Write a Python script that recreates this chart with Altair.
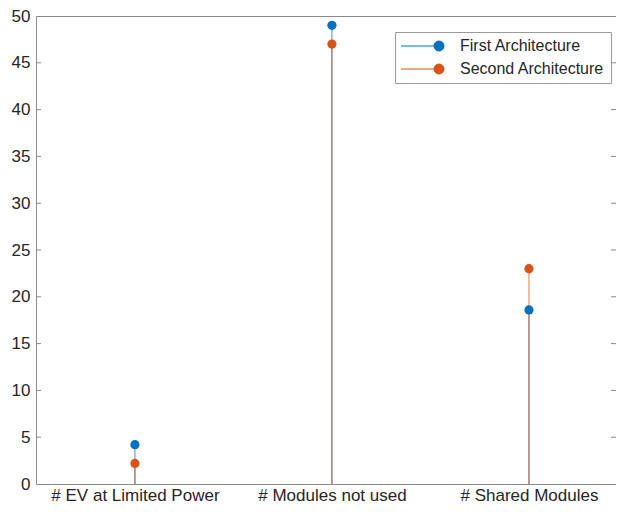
import altair as alt
import pandas as pd

categories = ["# EV at Limited Power", "# Modules not used", "# Shared Modules"]
series_names = ["First Architecture", "Second Architecture"]
first_values = [4.2, 49.0, 18.6]
second_values = [2.2, 47.0, 23.0]
series_colors = ["#0072BD", "#D95319"]
y_ticks = [0, 5, 10, 15, 20, 25, 30, 35, 40, 45, 50]
inner_ticks = [5, 10, 15, 20, 25, 30, 35, 40, 45]

rows = []
for i, (name, vals) in enumerate(zip(series_names, [first_values, second_values])):
    for c, v in zip(categories, vals):
        rows.append({"category": c, "series": name, "value": v, "order": i})
df = pd.DataFrame(rows)
tick_df = pd.DataFrame({"value": inner_ticks})

W, H = 580, 468
FONT = "Liberation Sans"
TXT = "#262626"

x_enc = alt.X(
    "category:N", sort=categories,
    scale=alt.Scale(type="point", padding=0.472, align=0.532),
    axis=alt.Axis(title=None, labelAngle=0, domain=False, ticks=False, grid=False,
                  labelFont=FONT, labelFontSize=17, labelColor=TXT, labelPadding=3),
)
y_enc = alt.Y(
    "value:Q",
    scale=alt.Scale(domain=[0, 50], nice=False, zero=True),
    axis=alt.Axis(values=y_ticks, title=None, domain=False, ticks=False, grid=False,
                  labelFont=FONT, labelFontSize=17, labelColor=TXT, labelPadding=6),
)
color_scale = alt.Scale(domain=series_names, range=series_colors)

sym_path = "M-7.6,0L-1,0M1,0A1,1,0,1,1,-1,0A1,1,0,1,1,1,0Z"
leg = alt.Legend(
    title=None, orient="none", legendX=359, legendY=16, direction="vertical",
    fillColor="white", strokeColor="#9a9a9a", padding=6,
    symbolType=sym_path, symbolSize=100, symbolStrokeWidth=1, symbolOpacity=1,
    symbolOffset=30,
    labelFont=FONT, labelFontSize=16, labelColor=TXT, rowPadding=7, labelOffset=13,
    labelLimit=300,
)
color_enc = alt.Color("series:N", scale=color_scale, legend=leg)

stems = alt.Chart(df).mark_rule(strokeWidth=1, opacity=0.75).encode(
    x=x_enc, y=y_enc, y2=alt.datum(0), color=color_enc,
)

points = alt.Chart(df).mark_point(filled=True, size=85, opacity=1).encode(
    x=x_enc, y=y_enc, color=color_enc,
)

left_ticks = alt.Chart(tick_df).mark_rule(color="#8a8a8a", strokeWidth=1).encode(
    y="value:Q", x=alt.value(0), x2=alt.value(5)
)
right_ticks = alt.Chart(tick_df).mark_rule(color="#8a8a8a", strokeWidth=1).encode(
    y="value:Q", x=alt.value(W - 5), x2=alt.value(W)
)

chart = alt.layer(left_ticks, right_ticks, stems, points).properties(
    width=W, height=H,
    autosize=alt.AutoSizeParams(type="none"),
    padding={"left": 28, "top": 8, "right": 0, "bottom": 20},
    background="white",
).configure_view(stroke="#8a8a8a", strokeWidth=1)

chart.save("out.html", embed_options={"renderer": "svg", "actions": False})
